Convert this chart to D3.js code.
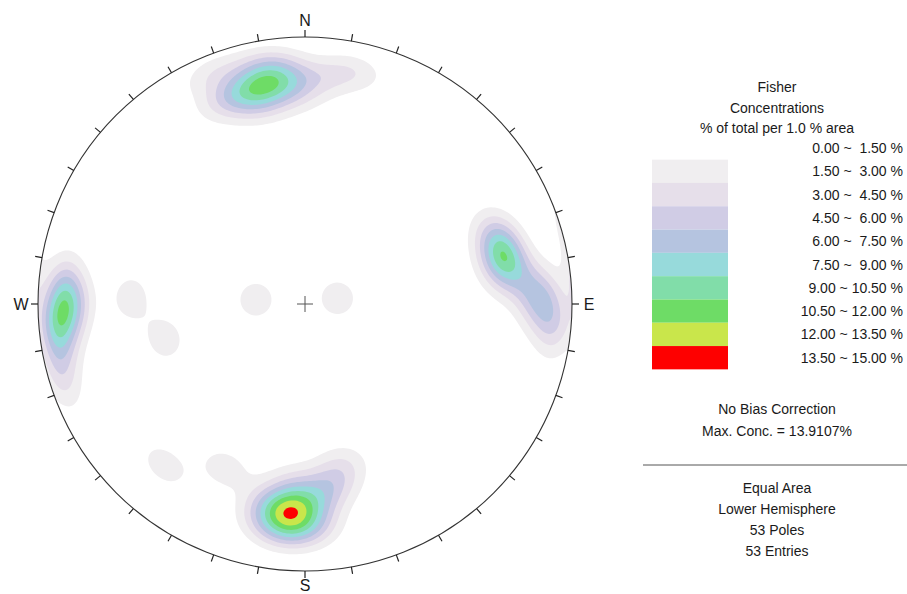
<!DOCTYPE html>
<html>
<head>
<meta charset="utf-8">
<script src="https://cdn.jsdelivr.net/npm/d3@7"></script>
<style>
  body { margin: 0; background: #fff; }
  text { font-family: "Liberation Sans", Arial, sans-serif; fill: #1a1a1a; }
</style>
</head>
<body>
<svg id="chart" width="907" height="594"></svg>
<script>
// Pole orientations (trend / plunge, degrees), lower hemisphere
const poleTrend = [
  // south set
  184, 185, 184, 184, 190, 178, 189, 179, 180, 188, 183, 171, 167, 174,
  221, 206,
  // scattered central poles
  272, 256, 275, 80,
  // west set
  269, 266, 272, 263, 270, 266, 276, 258, 252,
  // east set
  76, 79, 72, 77, 70, 80, 85, 89, 88, 93, 96,
  // north set
  349, 350, 344, 355, 349, 349, 344, 354, 338, 338, 358, 5, 12
];
const polePlunge = [
  21, 23, 27, 15, 21, 21, 26, 16, 26, 16, 33, 33, 38, 29,
  21, 32,
  35, 45, 75, 80,
  11, 10, 12, 8, 15, 6, 10, 7, 5,
  24, 21.5, 23, 28, 27, 25.5, 18, 15, 11, 10, 6,
  17, 18, 17, 17, 9.5, 24.5, 22, 12, 19, 8, 22, 16, 12
];

const fisherK = 120;          // Fisher kernel concentration
const levelThresholds = [1.5, 3.0, 4.5, 6.0, 7.5, 9.0, 10.5, 12.0, 13.5];
const levelColors = ["#f0eef0", "#e6dfea", "#d0cce5", "#b5c4e0", "#97dadb",
                     "#81dda9", "#6edc66", "#c9e64b", "#fe0000"];
const levelLabels = ["0.00 ~  1.50 %", "1.50 ~  3.00 %", "3.00 ~  4.50 %", "4.50 ~  6.00 %",
                     "6.00 ~  7.50 %", "7.50 ~  9.00 %", "9.00 ~ 10.50 %", "10.50 ~ 12.00 %",
                     "12.00 ~ 13.50 %", "13.50 ~ 15.00 %"];
const legendTitle = ["Fisher", "Concentrations", "% of total per 1.0 % area"];
const infoTop = ["No Bias Correction", "Max. Conc. = 13.9107%"];
const infoBottom = ["Equal Area", "Lower Hemisphere", "53 Poles", "53 Entries"];
const cardinalLabels = ["N", "E", "S", "W"];
const tickAzimuths = d3.range(0, 360, 10);

const svg = d3.select("#chart");
const cx = 305, cy = 304, R = 267;

// unit-disc coordinates -> pixels (east right, north up)
const sx = d3.scaleLinear().domain([-1, 1]).range([cx - R, cx + R]);
const sy = d3.scaleLinear().domain([-1, 1]).range([cy + R, cy - R]);

// pole unit vectors (east, north, down)
const rad = Math.PI / 180;
const poles = poleTrend.map((t, i) => {
  const p = polePlunge[i] * rad, tr = t * rad;
  return [Math.cos(p) * Math.sin(tr), Math.cos(p) * Math.cos(tr), Math.sin(p)];
});
const N = poles.length;

// density grid over the net (Fisher kernel, axial data), in % of total per 1 % area
const n = 267;
const values = new Float64Array(n * n);
for (let j = 0; j < n; j++) {
  for (let i = 0; i < n; i++) {
    let u = -1 + 2 * (i + 0.5) / n;
    let v = 1 - 2 * (j + 0.5) / n;
    let r = Math.hypot(u, v);
    if (r > 1) { u /= r; v /= r; r = 1; }
    const th = 2 * Math.asin(r / Math.SQRT2);
    const s = Math.sin(th), c = Math.cos(th);
    const e = r > 0 ? s * u / r : 0, nn = r > 0 ? s * v / r : 0;
    let sum = 0;
    for (const q of poles) {
      const d = Math.abs(e * q[0] + nn * q[1] + c * q[2]);
      sum += Math.exp(fisherK * (d - 1));
    }
    values[j * n + i] = fisherK / N * sum;
  }
}

const contours = d3.contours().size([n, n]).thresholds(levelThresholds)(values);
const gridToPx = d3.geoTransform({
  point: function (x, y) { this.stream.point(cx - R + x * 2 * R / n, cy - R + y * 2 * R / n); }
});
const path = d3.geoPath(gridToPx);

svg.append("clipPath").attr("id", "net-clip")
  .append("circle").attr("cx", cx).attr("cy", cy).attr("r", R);

svg.append("g").attr("clip-path", "url(#net-clip)")
  .selectAll("path").data(contours).join("path")
  .attr("d", path)
  .attr("fill", (d, i) => levelColors[i])
  .attr("stroke", "none");

// primitive circle
svg.append("circle").attr("cx", cx).attr("cy", cy).attr("r", R)
  .attr("fill", "none").attr("stroke", "#333").attr("stroke-width", 1.1);

// 10 degree ticks
svg.append("g").selectAll("line").data(tickAzimuths).join("line")
  .attr("x1", a => sx(Math.sin(a * rad)))
  .attr("y1", a => sy(Math.cos(a * rad)))
  .attr("x2", a => sx(Math.sin(a * rad) * (R + 7) / R))
  .attr("y2", a => sy(Math.cos(a * rad) * (R + 7) / R))
  .attr("stroke", "#222").attr("stroke-width", 1.2);

// centre cross
svg.append("path")
  .attr("d", `M${cx - 8},${cy}H${cx + 8}M${cx},${cy - 8}V${cy + 8}`)
  .attr("stroke", "#555").attr("stroke-width", 1);

// cardinal labels
const cardOffset = [17, 17, 14, 17];
svg.append("g").selectAll("text").data(cardinalLabels).join("text")
  .attr("x", (d, i) => sx(Math.sin(i * 90 * rad) * (R + cardOffset[i]) / R))
  .attr("y", (d, i) => sy(Math.cos(i * 90 * rad) * (R + cardOffset[i]) / R))
  .attr("text-anchor", "middle").attr("dominant-baseline", "central")
  .attr("font-size", 16).text(d => d);

// legend
const lx = 777;
svg.append("g").selectAll("text").data(legendTitle).join("text")
  .attr("x", lx).attr("y", (d, i) => 92 + i * 20.5)
  .attr("text-anchor", "middle").attr("font-size", 14).text(d => d);

const rowY = d3.scaleLinear().domain([0, 1]).range([148, 171.3]);
svg.append("g").selectAll("rect").data(levelColors).join("rect")
  .attr("x", 652).attr("width", 76)
  .attr("y", (d, i) => rowY(i + 1) - 11.65).attr("height", 23.3)
  .attr("fill", d => d);

svg.append("g").selectAll("text").data(levelLabels).join("text")
  .attr("x", 903).attr("y", (d, i) => rowY(i) + 5)
  .attr("text-anchor", "end").attr("font-size", 14)
  .style("white-space", "pre").text(d => d);

svg.append("g").selectAll("text").data(infoTop).join("text")
  .attr("x", lx).attr("y", (d, i) => 414 + i * 22)
  .attr("text-anchor", "middle").attr("font-size", 14).text(d => d);

svg.append("line").attr("x1", 643).attr("x2", 907).attr("y1", 465).attr("y2", 465)
  .attr("stroke", "#555").attr("stroke-width", 1);

svg.append("g").selectAll("text").data(infoBottom).join("text")
  .attr("x", lx).attr("y", (d, i) => 493 + i * 21)
  .attr("text-anchor", "middle").attr("font-size", 14).text(d => d);
</script>
</body>
</html>
